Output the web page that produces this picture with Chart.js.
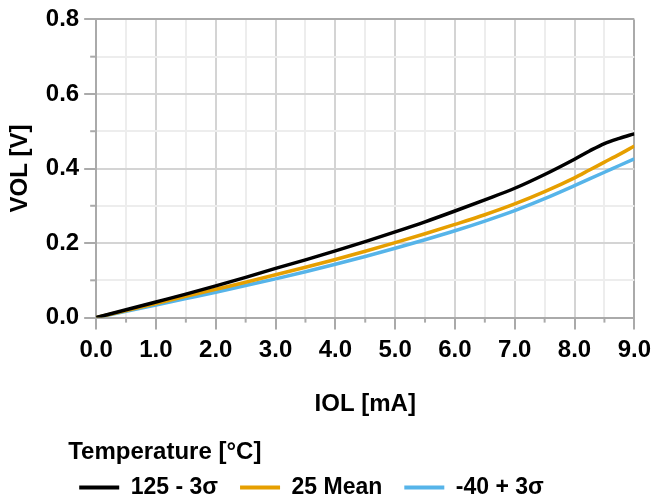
<!DOCTYPE html>
<html>
<head>
<meta charset="utf-8">
<script src="https://cdn.jsdelivr.net/npm/chart.js@4"></script>
<style>
    html, body { margin: 0; padding: 0; background: #fff; }
    #wrap { width: 657px; height: 501px; }
</style>
</head>
<body>
<div id="wrap"><canvas id="volChart"></canvas></div>
<script>
// IOL [mA] sample points
const iolValues = [0, 0.5, 1, 1.5, 2, 2.5, 3, 3.5, 4, 4.5, 5, 5.5, 6, 6.5, 7, 7.5, 8, 8.25, 8.5, 8.75, 9];

// VOL [V] per temperature corner
const vol125 = [0, 0.021, 0.042, 0.063, 0.085, 0.108, 0.132, 0.155, 0.179, 0.204, 0.230, 0.257, 0.286, 0.316, 0.347, 0.384, 0.425, 0.447, 0.467, 0.481, 0.493];
const vol25 = [0, 0.019, 0.038, 0.057, 0.076, 0.095, 0.115, 0.135, 0.156, 0.178, 0.201, 0.225, 0.250, 0.276, 0.305, 0.338, 0.375, 0.396, 0.417, 0.438, 0.460];
const volMinus40 = [0, 0.017, 0.034, 0.051, 0.068, 0.086, 0.104, 0.123, 0.143, 0.164, 0.186, 0.209, 0.233, 0.259, 0.287, 0.319, 0.354, 0.372, 0.390, 0.408, 0.426];

const seriesNames = ["125 - 3σ", "25 Mean", "-40 + 3σ"];
const seriesColors = ["#000000", "#E69F00", "#56B4E9"];

const FONT = "'Liberation Sans', Arial, Helvetica, sans-serif";
const FONT_SIZE = 24;

function toPoints(ys) {
    return iolValues.map((x, i) => ({ x: x, y: ys[i] }));
}

// x 轴：整数为主刻度；y 轴：0.2 的倍数为主刻度
const isMajorX = (v) => Math.abs(v - Math.round(v)) < 1e-6;
const isMajorY = (v) => Math.round(v * 10) % 2 === 0;

// 次刻度的短刻度线
const minorTicksPlugin = {
    id: "minorTicksPlugin",
    afterDraw(chart) {
        const ctx = chart.ctx;
        const xs = chart.scales.x;
        const ys = chart.scales.y;
        ctx.save();
        ctx.strokeStyle = "#aaaaaa";
        ctx.lineWidth = 2;
        xs.ticks.forEach((t) => {
            if (isMajorX(t.value)) return;
            const px = xs.getPixelForValue(t.value);
            ctx.beginPath();
            ctx.moveTo(px, ys.bottom);
            ctx.lineTo(px, ys.bottom + 5);
            ctx.stroke();
        });
        ys.ticks.forEach((t) => {
            if (isMajorY(t.value)) return;
            const py = ys.getPixelForValue(t.value);
            ctx.beginPath();
            ctx.moveTo(xs.left - 6, py);
            ctx.lineTo(xs.left, py);
            ctx.stroke();
        });
        ctx.restore();
    }
};

// 图例整体往左挪一点，让标题和第一条线对齐到左边
const legendShiftPlugin = {
    id: "legendShiftPlugin",
    afterLayout(chart) {
        if (!chart.legend) return;
        chart.legend.left -= 20;
        chart.legend.right -= 20;
    }
};

const datasets = [vol125, vol25, volMinus40].map((ys, i) => ({
    label: seriesNames[i],
    data: toPoints(ys),
    borderColor: seriesColors[i],
    backgroundColor: seriesColors[i],
    borderWidth: 3.5,
    pointRadius: 0,
    showLine: true,
    cubicInterpolationMode: "monotone"
}));

new Chart(document.getElementById("volChart").getContext("2d"), {
    type: "scatter",
    data: { datasets: datasets },
    options: {
        responsive: true,
        maintainAspectRatio: false,
        animation: false,
        layout: { padding: { left: 6, right: 0, top: 4, bottom: -8 } },
        scales: {
            x: {
                type: "linear",
                min: 0,
                max: 9,
                ticks: {
                    stepSize: 0.5,
                    autoSkip: false,
                    maxRotation: 0,
                    padding: 6,
                    color: "#000",
                    font: { family: FONT, size: FONT_SIZE, weight: "bold" },
                    callback: (v) => (isMajorX(v) ? v.toFixed(1) : "")
                },
                grid: {
                    lineWidth: 2,
                    tickLength: 12,
                    color: (c) => (c.tick && c.tick.value >= 9 ? "#aaaaaa" : (c.tick && isMajorX(c.tick.value) ? "#d4d4d4" : "#ededed")),
                    tickColor: (c) => (c.tick && isMajorX(c.tick.value) ? "#aaaaaa" : "rgba(0,0,0,0)")
                },
                border: { color: "#aaaaaa", width: 2 },
                title: {
                    display: true,
                    text: "IOL [mA]",
                    color: "#000",
                    font: { family: FONT, size: FONT_SIZE, weight: "bold" },
                    padding: { top: 20, bottom: 21 }
                }
            },
            y: {
                type: "linear",
                min: 0,
                max: 0.8,
                ticks: {
                    stepSize: 0.1,
                    autoSkip: false,
                    padding: 5,
                    color: "#000",
                    font: { family: FONT, size: FONT_SIZE, weight: "bold" },
                    callback: (v) => (isMajorY(v) ? v.toFixed(1) : "")
                },
                grid: {
                    lineWidth: 2,
                    tickLength: 12,
                    color: (c) => (c.tick && c.tick.value >= 0.8 - 1e-6 ? "#aaaaaa" : (c.tick && isMajorY(c.tick.value) ? "#d4d4d4" : "#ededed")),
                    tickColor: (c) => (c.tick && isMajorY(c.tick.value) ? "#aaaaaa" : "rgba(0,0,0,0)")
                },
                border: { color: "#aaaaaa", width: 2 },
                title: {
                    display: true,
                    text: "VOL [V]",
                    color: "#000",
                    font: { family: FONT, size: FONT_SIZE, weight: "bold" },
                    padding: { top: 0, bottom: 6 }
                }
            }
        },
        plugins: {
            tooltip: { enabled: false },
            legend: {
                display: true,
                position: "bottom",
                align: "center",
                title: {
                    display: true,
                    text: "Temperature [°C]",
                    position: "start",
                    color: "#000",
                    font: { family: FONT, size: FONT_SIZE, weight: "bold" },
                    padding: { top: 0, bottom: -15 }
                },
                labels: {
                    boxWidth: 40,
                    boxHeight: 4,
                    padding: 22,
                    color: "#000",
                    font: { family: FONT, size: 23, weight: "bold" },
                    generateLabels: (chart) =>
                        Chart.defaults.plugins.legend.labels.generateLabels(chart).map((item) => ({ ...item, lineWidth: 0 }))
                }
            }
        }
    },
    plugins: [minorTicksPlugin, legendShiftPlugin]
});
</script>
</body>
</html>
